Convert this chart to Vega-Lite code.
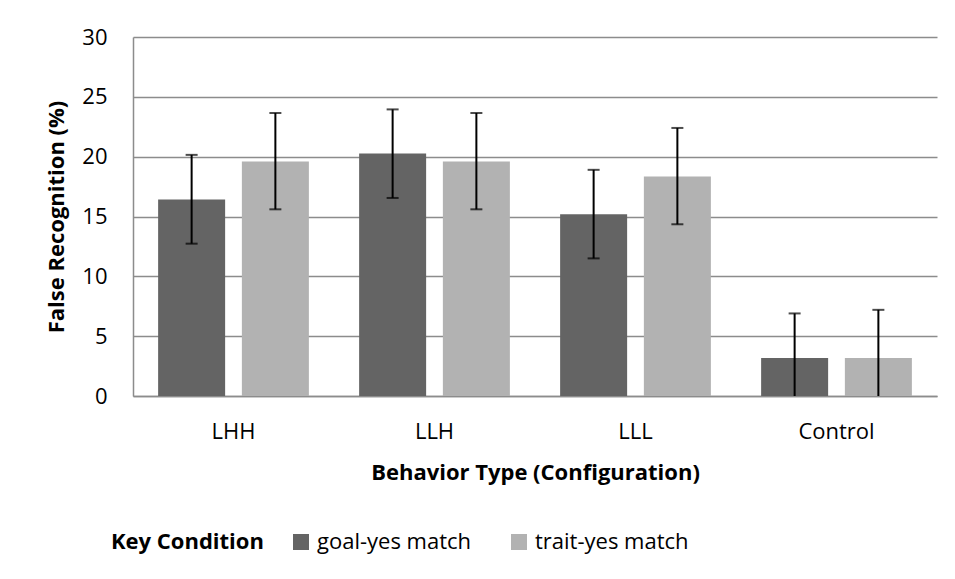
{
  "$schema": "https://vega.github.io/schema/vega-lite/v6.json",
  "width": 804,
  "height": 359,
  "autosize": "none",
  "padding": {"left": 133, "top": 37, "right": 18, "bottom": 183},
  "background": "white",
  "config": {
    "font": "Open Sans",
    "view": {"stroke": null},
    "axis": {"labelFont": "Open Sans", "titleFont": "Open Sans", "labelColor": "#000000", "titleColor": "#000000", "domainColor": "#8c8c8c", "gridColor": "#8c8c8c", "ticks": false}
  },
  "data": {
    "values": [
      {"type": "LHH", "cond": "goal-yes match", "value": 16.43, "lo": 12.73, "hi": 20.15},
      {"type": "LHH", "cond": "trait-yes match", "value": 19.6, "lo": 15.6, "hi": 23.65},
      {"type": "LLH", "cond": "goal-yes match", "value": 20.27, "lo": 16.55, "hi": 23.95},
      {"type": "LLH", "cond": "trait-yes match", "value": 19.6, "lo": 15.6, "hi": 23.65},
      {"type": "LLL", "cond": "goal-yes match", "value": 15.18, "lo": 11.5, "hi": 18.9},
      {"type": "LLL", "cond": "trait-yes match", "value": 18.35, "lo": 14.35, "hi": 22.4},
      {"type": "Control", "cond": "goal-yes match", "value": 3.18, "lo": -0.55, "hi": 6.9},
      {"type": "Control", "cond": "trait-yes match", "value": 3.18, "lo": -0.85, "hi": 7.2}
    ]
  },
  "encoding": {
    "x": {
      "field": "type", "type": "nominal", "sort": ["LHH", "LLH", "LLL", "Control"],
      "scale": {"paddingInner": 0.25, "paddingOuter": 0.125},
      "axis": {"title": "Behavior Type (Configuration)", "labelAngle": 0, "labelFontSize": 22, "labelPadding": 25, "titleFontSize": 22, "titleFontWeight": "bold", "titlePadding": 20, "domainWidth": 1.5}
    },
    "xOffset": {"field": "cond", "type": "nominal", "scale": {"paddingInner": 0.2, "paddingOuter": 0}}
  },
  "layer": [
    {
      "mark": {"type": "bar"},
      "encoding": {
        "y": {
          "field": "value", "type": "quantitative",
          "scale": {"domain": [0, 30], "nice": false},
          "axis": {"title": "False Recognition (%)", "values": [0, 5, 10, 15, 20, 25, 30], "grid": true, "gridWidth": 1.5, "domainWidth": 1.5, "labelFontSize": 22, "labelPadding": 26, "titleFontSize": 22, "titleFontWeight": "bold", "titlePadding": 13}
        },
        "color": {
          "field": "cond", "type": "nominal",
          "scale": {"domain": ["goal-yes match", "trait-yes match"], "range": ["#646464", "#b2b2b2"]},
          "legend": {"title": "Key Condition", "orient": "none", "legendX": -22, "legendY": 494, "direction": "horizontal", "titleOrient": "left", "titleFontSize": 22, "titleFontWeight": "bold", "titleColor": "#000000", "titlePadding": 26, "labelFontSize": 22, "labelColor": "#000000", "labelOffset": 5, "columnPadding": 36, "symbolType": "square", "symbolSize": 256, "symbolStrokeWidth": 0, "titleBaseline": "middle"}
        }
      }
    },
    {
      "mark": {"type": "rule", "color": "#000000", "strokeWidth": 2, "clip": true},
      "encoding": {
        "y": {"field": "lo", "type": "quantitative"},
        "y2": {"field": "hi"}
      }
    },
    {
      "mark": {"type": "tick", "color": "#000000", "thickness": 2, "size": 12, "orient": "horizontal", "clip": true},
      "encoding": {"y": {"field": "hi", "type": "quantitative"}}
    },
    {
      "mark": {"type": "tick", "color": "#000000", "thickness": 2, "size": 12, "orient": "horizontal", "clip": true},
      "encoding": {"y": {"field": "lo", "type": "quantitative"}}
    }
  ]
}
